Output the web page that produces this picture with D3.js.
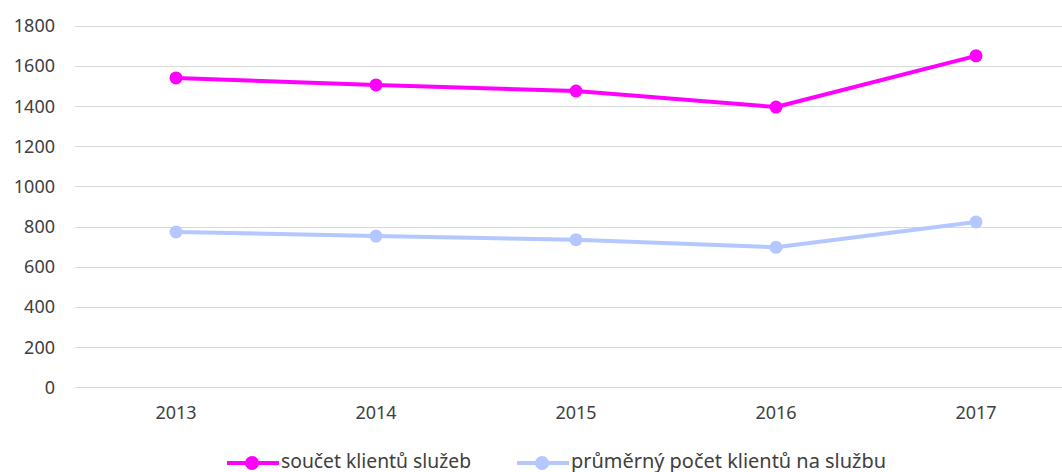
<!DOCTYPE html>
<html>
<head>
<meta charset="utf-8">
<script src="https://cdn.jsdelivr.net/npm/d3@7"></script>
<style>
  body { margin: 0; background: #fff; }
  svg { display: block; font-family: "Noto Sans", "Liberation Sans", sans-serif; }
</style>
</head>
<body>
<svg id="chart"></svg>
<script>
// data
var years = ["2013", "2014", "2015", "2016", "2017"];
var sumClients = [1540, 1505, 1475, 1395, 1650];
var avgClients = [773, 753, 735, 697, 823];
var yTicks = [0, 200, 400, 600, 800, 1000, 1200, 1400, 1600, 1800];
var seriesNames = ["součet klientů služeb", "průměrný počet klientů na službu"];
var seriesColors = ["#ff00ff", "#b4c7ff"];

var W = 1062, H = 472;

var svg = d3.select("#chart").attr("width", W).attr("height", H);

var x = d3.scalePoint()
    .domain(years)
    .range([176, 976]);

var y = d3.scaleLinear()
    .domain([0, 1800])
    .range([387.3, 25.7]);

// gridlines
svg.append("g").selectAll("line")
    .data(yTicks)
    .enter().append("line")
    .attr("x1", 75).attr("x2", W)
    .attr("y1", d => Math.round(y(d)) + 0.5)
    .attr("y2", d => Math.round(y(d)) + 0.5)
    .attr("stroke", "#d9d9d9")
    .attr("stroke-width", 1);

// y labels
svg.append("g").selectAll("text")
    .data(yTicks)
    .enter().append("text")
    .attr("x", 55)
    .attr("y", d => y(d))
    .attr("dy", "0.36em")
    .attr("text-anchor", "end")
    .style("font-size", "18px")
    .attr("fill", "#404040")
    .text(d => d);

// x labels
svg.append("g").selectAll("text")
    .data(years)
    .enter().append("text")
    .attr("x", d => x(d))
    .attr("y", 413)
    .attr("dy", "0.36em")
    .attr("text-anchor", "middle")
    .style("font-size", "18px")
    .attr("fill", "#404040")
    .text(d => d);

var allSeries = [sumClients, avgClients];

var line = d3.line()
    .x((d, i) => x(years[i]))
    .y(d => y(d));

allSeries.forEach(function(vals, s) {
    svg.append("path")
        .datum(vals)
        .attr("fill", "none")
        .attr("stroke", seriesColors[s])
        .attr("stroke-width", 4)
        .attr("stroke-linejoin", "round")
        .attr("d", line);

    svg.append("g").selectAll("circle")
        .data(vals)
        .enter().append("circle")
        .attr("cx", (d, i) => x(years[i]))
        .attr("cy", d => y(d))
        .attr("r", 6.5)
        .attr("fill", seriesColors[s]);
});

// legend
var legendX = [227, 517];
var legendW = [190, 315];
var legendY = 463;
seriesNames.forEach(function(name, s) {
    var g = svg.append("g").attr("transform", "translate(" + legendX[s] + "," + legendY + ")");
    g.append("line")
        .attr("x1", 0).attr("x2", 52)
        .attr("y1", 0).attr("y2", 0)
        .attr("stroke", seriesColors[s])
        .attr("stroke-width", 4);
    g.append("circle")
        .attr("cx", 25).attr("cy", 0).attr("r", 7)
        .attr("fill", seriesColors[s]);
    g.append("text")
        .attr("x", 54).attr("y", 5)
        .style("font-size", "19px")
        .attr("textLength", legendW[s])
        .attr("lengthAdjust", "spacingAndGlyphs")
        .attr("fill", "#404040")
        .text(name);
});
</script>
</body>
</html>
